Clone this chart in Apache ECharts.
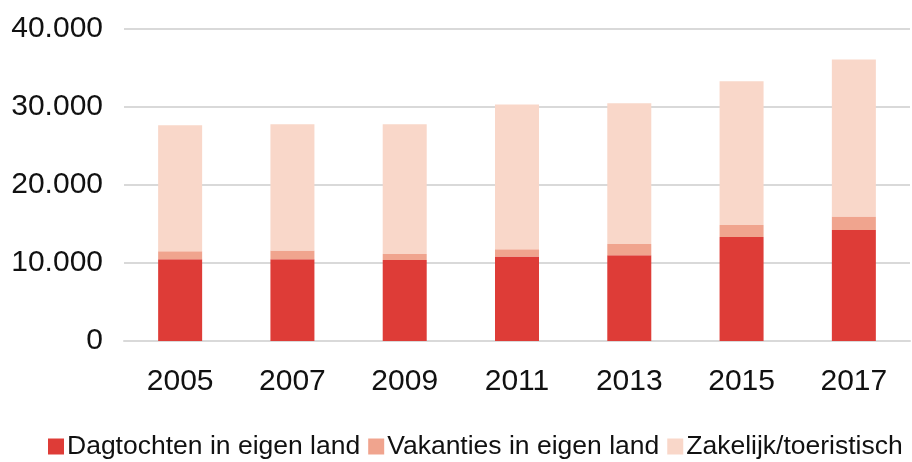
<!DOCTYPE html>
<html>
<head>
<meta charset="utf-8">
<script src="https://cdn.jsdelivr.net/npm/echarts@6/dist/echarts.min.js"></script>
<style>
    html, body { margin: 0; padding: 0; background: #fff; }
    #chart { width: 912px; height: 462px; }
</style>
</head>
<body>
<div id="chart"></div>
<script>
    const years = ['2005', '2007', '2009', '2011', '2013', '2015', '2017']
    const dagtochten = [10490, 10490, 10390, 10820, 10990, 13330, 14230]
    const vakanties = [1010, 1100, 770, 940, 1450, 1540, 1720]
    const zakelijk = [16150, 16190, 16630, 18550, 18040, 18420, 20130]
    const yTicks = [0, 10000, 20000, 30000, 40000]

    const font = '"Liberation Sans", Arial, sans-serif'

    let chart = echarts.init(document.getElementById('chart'))

    function bar(name, values, color) {
        return {
            name: name,
            type: 'bar',
            stack: 'total',
            barWidth: 44,
            data: values,
            itemStyle: { color: color },
            emphasis: { disabled: true }
        }
    }

    let option = {
        animation: false,
        grid: { left: 124, right: 2, top: 29, bottom: 121 },
        legend: {
            left: 48,
            top: 433,
            width: 900,
            padding: 0,
            itemWidth: 16,
            itemHeight: 16,
            itemGap: 8,
            icon: 'rect',
            textStyle: { fontFamily: font, fontSize: 26.5, color: '#111', padding: [0, 0, 0, -2] },
            data: ['Dagtochten in eigen land', 'Vakanties in eigen land', 'Zakelijk/toeristisch']
        },
        xAxis: {
            type: 'category',
            data: years,
            axisLine: { show: true, lineStyle: { color: '#d9d9d9', width: 2 } },
            axisTick: { show: false },
            axisLabel: { fontFamily: font, fontSize: 30, color: '#111', margin: 26 }
        },
        yAxis: {
            type: 'value',
            min: yTicks[0],
            max: yTicks[yTicks.length - 1],
            interval: 10000,
            axisLine: { show: false },
            axisTick: { show: false },
            splitLine: { lineStyle: { color: '#d9d9d9', width: 2 } },
            axisLabel: {
                fontFamily: font,
                fontSize: 30,
                color: '#111',
                margin: 21,
                formatter: function (v) {
                    return String(v).replace(/\B(?=(\d{3})+(?!\d))/g, '.')
                }
            }
        },
        series: [
            bar('Dagtochten in eigen land', dagtochten, '#de3c37'),
            bar('Vakanties in eigen land', vakanties, '#f0a48e'),
            bar('Zakelijk/toeristisch', zakelijk, '#f9d7c9')
        ]
    }

    chart.setOption(option)
</script>
</body>
</html>
